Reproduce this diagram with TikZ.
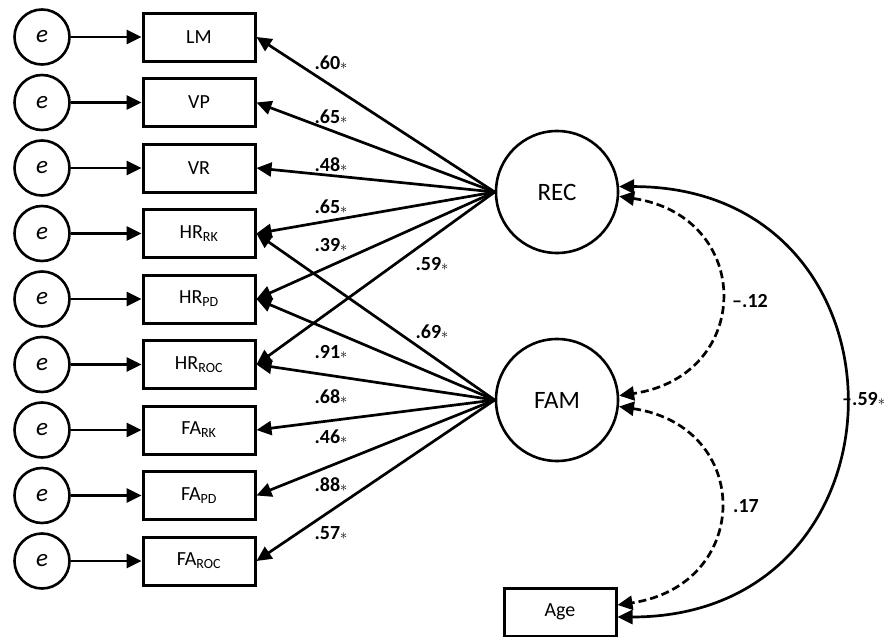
\documentclass[tikz,border=0pt]{standalone}
\usepackage{fontspec}
\setmainfont{Carlito}
\usetikzlibrary{arrows.meta,calc}
\newcommand{\sg}{\ensuremath{\scriptstyle\ast}}
\tikzset{
  tip/.style={Triangle[length=15pt,width=14pt]},
  errc/.style={circle, draw, line width=2.6pt, minimum size=55pt, inner sep=0pt, font=\fontsize{25}{25}\selectfont\itshape},
  obsbox/.style={rectangle, draw, line width=3pt, minimum width=112pt, minimum height=48pt, inner sep=0pt, font=\fontsize{20}{20}\selectfont},
  latc/.style={circle, draw, line width=2.6pt, minimum size=122pt, inner sep=0pt, font=\fontsize{25}{25}\selectfont},
  arr/.style={line width=2.7pt, -{Triangle[length=15pt,width=14pt]}},
  cov/.style={line width=2.7pt, {Triangle[length=15pt,width=14pt]}-{Triangle[length=15pt,width=14pt]}},
  dsh/.style={dash pattern=on 8pt off 4pt},
  lbl/.style={font=\fontsize{20}{20}\selectfont\bfseries, inner sep=0pt}
}
\begin{document}
\begin{tikzpicture}[x=1pt,y=-1pt]
\useasboundingbox (0,0) rectangle (884,637);
% observed boxes and error circles
\foreach \nm/\txt/\yy in {lm/LM/37, vp/VP/102.5, vr/VR/168, hrrk/HR\textsubscript{RK}/233.5, hrpd/HR\textsubscript{PD}/299, hrroc/HR\textsubscript{ROC}/364.5, fark/FA\textsubscript{RK}/430, fapd/FA\textsubscript{PD}/495.5, faroc/FA\textsubscript{ROC}/561}{
  \node[obsbox] (\nm) at (199,\yy) {\txt};
  \node[errc] (e\nm) at (42,\yy) {e};
  \draw[arr] (e\nm) -- (\nm);
}
\node[latc] (REC) at (557,192) {REC};
\node[latc] (FAM) at (557,400) {FAM};
\node[obsbox] (Age) at (560,612) {Age};
% loadings
\foreach \nm in {lm,vp,vr,hrrk,hrpd,hrroc}{\draw[arr] (REC.west) -- (\nm.east);}
\foreach \nm in {hrrk,hrpd,hrroc,fark,fapd,faroc}{\draw[arr] (FAM.west) -- (\nm.east);}
% loading labels
\node[lbl] (l1) at (331,63) {.60\sg};
\node[lbl] (l2) at (331,117) {.65\sg};
\node[lbl] (l3) at (331,165) {.48\sg};
\node[lbl] (l4) at (331,207) {.65\sg};
\node[lbl] (l5) at (331,245) {.39\sg};
\node[lbl] (l6) at (432,264) {.59\sg};
\node[lbl] (l7) at (432,332) {.69\sg};
\node[lbl] (l8) at (331,352) {.91\sg};
\node[lbl] (l9) at (331,397) {.68\sg};
\node[lbl] (l10) at (331,437) {.46\sg};
\node[lbl] (l11) at (331,485) {.88\sg};
\node[lbl] (l12) at (331,533) {.57\sg};
% covariances
\coordinate (ageA) at ($(Age.east)+(0,-7)$);
\coordinate (ageB) at ($(Age.east)+(0,5)$);
\draw[cov,dsh] (REC.-4) .. controls +(135,20) and +(135,-20) .. (FAM.4);
\draw[cov,dsh] (FAM.-6) .. controls +(135,20) and +(135,-20) .. (ageA);
\draw[cov] (REC.5) .. controls +(302,0) and +(302,0) .. (ageB);
\node[lbl] (c1) at (750,301) {\textendash.12};
\node[lbl] (c2) at (746,506) {.17};
\node[lbl, anchor=west] (c3) at (842,399) {\textendash.59\sg};
\end{tikzpicture}
\end{document}
